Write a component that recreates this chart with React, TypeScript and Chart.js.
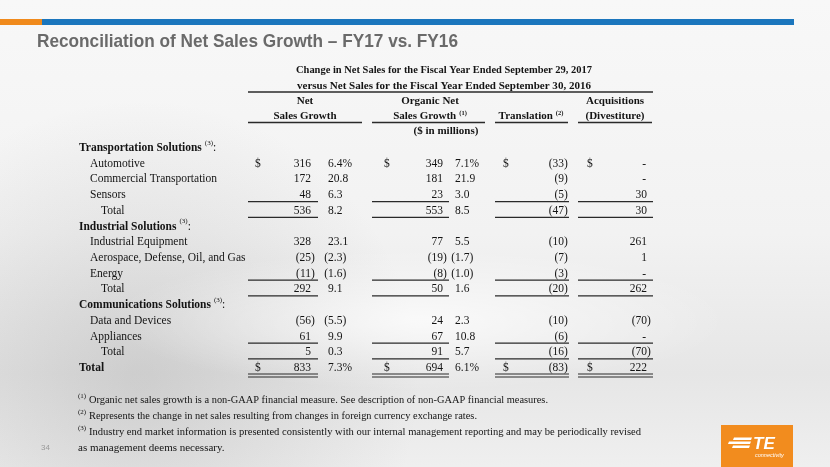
import React, { useEffect, useRef } from 'react';
import { Chart, registerables } from 'chart.js';
Chart.register(...registerables);

const W = 830;
const H = 467;

// ---------- data ----------
const ROWS = [
  'Transportation Solutions', 'Automotive', 'Commercial Transportation', 'Sensors', 'Total',
  'Industrial Solutions', 'Industrial Equipment', 'Aerospace, Defense, Oil, and Gas', 'Energy', 'Total',
  'Communications Solutions', 'Data and Devices', 'Appliances', 'Total', 'Total',
];
const ROW_KIND = [
  'section', 'item', 'item', 'item', 'subtotal',
  'section', 'item', 'item', 'item', 'subtotal',
  'section', 'item', 'item', 'subtotal', 'grand',
];
const NET_AMT = [null, 316, 172, 48, 536, null, 328, -25, -11, 292, null, -56, 61, 5, 833];
const NET_PCT = [null, 6.4, 20.8, 6.3, 8.2, null, 23.1, -2.3, -1.6, 9.1, null, -5.5, 9.9, 0.3, 7.3];
const ORG_AMT = [null, 349, 181, 23, 553, null, 77, -19, -8, 50, null, 24, 67, 91, 694];
const ORG_PCT = [null, 7.1, 21.9, 3.0, 8.5, null, 5.5, -1.7, -1.0, 1.6, null, 2.3, 10.8, 5.7, 6.1];
const TRANS_AMT = [null, -33, -9, -5, -47, null, -10, -7, -3, -20, null, -10, -6, -16, -83];
const ACQ_AMT = [null, 0, 0, 30, 30, null, 261, 1, 0, 262, null, -70, 0, -70, 222];
const DOLLAR_ROWS = [1, 14];
const PERCENT_ROWS = [1, 14];
const SINGLE_RULE_ROWS = [3, 4, 8, 9, 12, 13];
const DOUBLE_RULE_ROWS = [14];

const SLIDE_TITLE = 'Reconciliation of Net Sales Growth \u2013 FY17 vs. FY16';
const TABLE_TITLE = [
  'Change in Net Sales for the Fiscal Year Ended September 29, 2017',
  'versus Net Sales for the Fiscal Year Ended September 30, 2016',
];
const COL_HEAD_TOP = ['Net', 'Organic Net', '', 'Acquisitions'];
const COL_HEAD_BOTTOM = ['Sales Growth', 'Sales Growth', 'Translation', '(Divestiture)'];
const COL_HEAD_SUP = ['', '(1)', '(2)', ''];
const UNITS_LABEL = '($ in millions)';
const FOOTNOTES = [
  ['(1)', 'Organic net sales growth is a non-GAAP financial measure. See description of non-GAAP financial measures.'],
  ['(2)', 'Represents the change in net sales resulting from changes in foreign currency exchange rates.'],
  ['(3)', 'Industry end market information is presented consistently with our internal management reporting and may be periodically revised'],
  ['', 'as management deems necessary.'],
];
const PAGE_NUMBER = '34';

// ---------- layout ----------
const ROW_TOP = 148;
const ROW_BOTTOM = 368;
const GROUPS = [
  { dollar: 255, amtR: 311, pctL: 328, ruleL: 248, ruleR: 318, headL: 248, headR: 362, center: 305 },
  { dollar: 384, amtR: 443, pctL: 455, ruleL: 372, ruleR: 449, headL: 372, headR: 485, center: 430 },
  { dollar: 503, amtR: 564, pctL: 0, ruleL: 495, ruleR: 569, headL: 495, headR: 568, center: 531 },
  { dollar: 587, amtR: 647, pctL: 0, ruleL: 578, ruleR: 653, headL: 578, headR: 652, center: 615 },
];
const FOOT_Y = [400, 416, 432, 448];
const FOOT_W = [459, 388, 552, 0];
const SERIF = '"Liberation Serif", "Times New Roman", serif';
const TEXT = '#141414';
const RULE = '#2a2a2a';

function fmtNum(v: number) {
  return Math.abs(v).toLocaleString('en-US');
}

function fitText(ctx: CanvasRenderingContext2D, text: string, x: number, y: number, width: number, align: CanvasTextAlign) {
  const w = ctx.measureText(text).width;
  const s = w > 0 && width > 0 ? width / w : 1;
  ctx.save();
  ctx.translate(x, y);
  ctx.scale(s, 1);
  ctx.textAlign = align;
  ctx.fillText(text, 0, 0);
  ctx.restore();
}

function drawAmount(ctx: CanvasRenderingContext2D, v: number, xR: number, y: number) {
  ctx.textBaseline = 'middle';
  if (v === 0) {
    ctx.textAlign = 'right';
    ctx.fillText('-', xR - 1, y);
    return;
  }
  const s = fmtNum(v);
  ctx.textAlign = 'right';
  ctx.fillText(s, xR, y);
  if (v < 0) {
    const w = ctx.measureText(s).width;
    ctx.textAlign = 'left';
    ctx.fillText(')', xR, y);
    ctx.textAlign = 'right';
    ctx.fillText('(', xR - w, y);
  }
}

function drawPct(ctx: CanvasRenderingContext2D, v: number, xL: number, y: number, withPct: boolean) {
  ctx.textBaseline = 'middle';
  const s = Math.abs(v).toFixed(1) + (withPct ? '%' : '');
  ctx.textAlign = 'left';
  ctx.fillText(s, xL, y);
  if (v < 0) {
    const w = ctx.measureText(s).width;
    ctx.fillText(')', xL + w, y);
    ctx.textAlign = 'right';
    ctx.fillText('(', xL, y);
  }
}

function hline(ctx: CanvasRenderingContext2D, x1: number, x2: number, y: number, w = 1.2) {
  ctx.beginPath();
  ctx.lineWidth = w;
  ctx.strokeStyle = RULE;
  ctx.moveTo(x1, y);
  ctx.lineTo(x2, y);
  ctx.stroke();
}

const slidePlugin = {
  id: 'slide',
  beforeDraw(chart: any) {
    const ctx: CanvasRenderingContext2D = chart.ctx;
    ctx.save();
    // background
    const g = ctx.createLinearGradient(0, 0, 0, H);
    g.addColorStop(0, '#f8f8f8');
    g.addColorStop(0.5, '#f2f2f2');
    g.addColorStop(0.8, '#e6e6e6');
    g.addColorStop(1, '#efefef');
    ctx.fillStyle = g;
    ctx.fillRect(0, 0, W, H);
    const r1 = ctx.createRadialGradient(140, 380, 10, 140, 380, 280);
    r1.addColorStop(0, 'rgba(120,120,120,0.22)');
    r1.addColorStop(1, 'rgba(120,120,120,0)');
    ctx.fillStyle = r1;
    ctx.fillRect(0, 0, W, H);
    ctx.save();
    ctx.translate(420, 320);
    ctx.scale(2.2, 0.5);
    const r2 = ctx.createRadialGradient(0, 0, 5, 0, 0, 140);
    r2.addColorStop(0, 'rgba(255,255,255,0.7)');
    r2.addColorStop(1, 'rgba(255,255,255,0)');
    ctx.fillStyle = r2;
    ctx.fillRect(-200, -200, 400, 400);
    ctx.restore();

    // top bar
    ctx.fillStyle = '#f08a1c';
    ctx.fillRect(0, 19, 42, 6);
    ctx.fillStyle = '#1b76bd';
    ctx.fillRect(42, 19, 752, 6);

    // slide title
    ctx.fillStyle = '#6a6a6a';
    ctx.font = 'bold 19px "Liberation Sans Narrow", "Liberation Sans", Arial, sans-serif';
    ctx.textBaseline = 'alphabetic';
    fitText(ctx, SLIDE_TITLE, 37, 47, 421, 'left');

    // page number
    ctx.fillStyle = '#9a9a9a';
    ctx.font = '8px "Liberation Sans", Arial, sans-serif';
    ctx.textAlign = 'left';
    ctx.fillText(PAGE_NUMBER, 41, 450);

    // logo
    ctx.fillStyle = '#f28c1e';
    ctx.fillRect(721, 425, 72, 45);
    ctx.fillStyle = '#ffffff';
    const stripe = (x1: number, x2: number, y: number) => {
      ctx.beginPath();
      ctx.moveTo(x1 + 1, y);
      ctx.lineTo(x2 + 1, y);
      ctx.lineTo(x2, y + 2.4);
      ctx.lineTo(x1, y + 2.4);
      ctx.closePath();
      ctx.fill();
    };
    stripe(733, 751, 437.5);
    stripe(728, 750, 441.5);
    stripe(732, 749, 445.5);
    ctx.font = 'italic bold 17px "Liberation Sans", Arial, sans-serif';
    ctx.textBaseline = 'alphabetic';
    ctx.textAlign = 'left';
    ctx.fillText('TE', 753, 449);
    ctx.font = 'italic 5.5px "Liberation Sans", Arial, sans-serif';
    ctx.fillText('connectivity', 755, 457);
    ctx.restore();
  },
  afterDraw(chart: any) {
    const ctx: CanvasRenderingContext2D = chart.ctx;
    const xs = chart.scales.x;
    const ys = chart.scales.y;
    const X = (v: number) => xs.getPixelForValue(v);
    ctx.save();
    ctx.fillStyle = TEXT;

    // table title
    ctx.font = `bold 11px ${SERIF}`;
    ctx.textBaseline = 'middle';
    fitText(ctx, TABLE_TITLE[0], X(444), 70, 296, 'center');
    fitText(ctx, TABLE_TITLE[1], X(444), 86, 294, 'center');
    hline(ctx, X(248), X(653), 92, 1.3);

    // column headers
    GROUPS.forEach((gp, i) => {
      ctx.font = `bold 11px ${SERIF}`;
      ctx.textAlign = 'center';
      ctx.textBaseline = 'middle';
      if (COL_HEAD_TOP[i]) ctx.fillText(COL_HEAD_TOP[i], X(gp.center), 101);
      const main = COL_HEAD_BOTTOM[i];
      const sup = COL_HEAD_SUP[i];
      const mw = ctx.measureText(main).width;
      ctx.font = `bold 6.5px ${SERIF}`;
      const sw = sup ? ctx.measureText(sup).width + 3 : 0;
      const left = X(gp.center) - (mw + sw) / 2;
      ctx.font = `bold 11px ${SERIF}`;
      ctx.textAlign = 'left';
      ctx.fillText(main, left, 116);
      if (sup) {
        ctx.font = `bold 6.5px ${SERIF}`;
        ctx.fillText(sup, left + mw + 3, 113);
      }
      hline(ctx, X(gp.headL), X(gp.headR), 122.5, 1.3);
    });
    ctx.font = `bold 11px ${SERIF}`;
    ctx.textAlign = 'center';
    ctx.fillText(UNITS_LABEL, X(446), 131);

    // rows
    ROWS.forEach((label, i) => {
      const y = ys.getPixelForValue(i);
      const kind = ROW_KIND[i];
      ctx.fillStyle = TEXT;
      ctx.textBaseline = 'middle';
      ctx.textAlign = 'left';
      if (kind === 'section') {
        ctx.font = `bold 11.5px ${SERIF}`;
        ctx.fillText(label, X(79), y);
        const w = ctx.measureText(label).width;
        ctx.font = `7px ${SERIF}`;
        ctx.fillText('(3)', X(79) + w + 3, y - 5);
        const sw = ctx.measureText('(3)').width;
        ctx.font = `11.5px ${SERIF}`;
        ctx.fillText(':', X(79) + w + 3 + sw, y);
        return;
      }
      if (kind === 'grand') {
        ctx.font = `bold 11.5px ${SERIF}`;
        ctx.fillText(label, X(79), y);
      } else {
        ctx.font = `11.5px ${SERIF}`;
        ctx.fillText(label, X(kind === 'subtotal' ? 101 : 90), y);
      }
      ctx.font = `11.5px ${SERIF}`;
      const amts = [NET_AMT[i], ORG_AMT[i], TRANS_AMT[i], ACQ_AMT[i]];
      const pcts = [NET_PCT[i], ORG_PCT[i]];
      GROUPS.forEach((gp, gi) => {
        if (DOLLAR_ROWS.includes(i)) {
          ctx.textAlign = 'left';
          ctx.fillText('$', X(gp.dollar), y);
        }
        const a = amts[gi];
        if (a !== null && a !== undefined) drawAmount(ctx, a, X(gp.amtR), y);
        if (gi < 2) {
          const p = pcts[gi];
          if (p !== null && p !== undefined) drawPct(ctx, p, X(gp.pctL), y, PERCENT_ROWS.includes(i));
        }
        if (SINGLE_RULE_ROWS.includes(i)) hline(ctx, X(gp.ruleL), X(gp.ruleR), y + 6.5, 1.2);
        if (DOUBLE_RULE_ROWS.includes(i)) {
          hline(ctx, X(gp.ruleL), X(gp.ruleR), y + 6, 1.2);
          hline(ctx, X(gp.ruleL), X(gp.ruleR), y + 9, 1.2);
        }
      });
    });

    // footnotes
    FOOTNOTES.forEach(([sup, txt], i) => {
      ctx.fillStyle = TEXT;
      ctx.textAlign = 'left';
      ctx.textBaseline = 'middle';
      let x = X(78);
      if (sup) {
        ctx.font = `7px ${SERIF}`;
        ctx.fillText(sup, x, FOOT_Y[i] - 4);
        x = X(89);
      }
      ctx.font = `11px ${SERIF}`;
      fitText(ctx, txt, x, FOOT_Y[i], FOOT_W[i], 'left');
    });
    ctx.restore();
  },
};

export default function App() {
  const ref = useRef<HTMLCanvasElement>(null);
  useEffect(() => {
    document.body.style.margin = '0';
    const canvas = ref.current!;
    const chart = new Chart(canvas, {
      type: 'scatter',
      data: { labels: ROWS, datasets: [{ data: [], pointRadius: 0 }] },
      options: {
        animation: false,
        responsive: false,
        devicePixelRatio: 1,
        events: [],
        layout: { padding: { top: ROW_TOP, bottom: H - ROW_BOTTOM, left: 0, right: 0 } },
        plugins: { legend: { display: false }, tooltip: { enabled: false }, title: { display: false } },
        scales: {
          x: { type: 'linear', min: 0, max: W, display: false },
          y: { type: 'category', labels: ROWS, display: false, offset: false },
        },
      },
      plugins: [slidePlugin],
    } as any);
    return () => chart.destroy();
  }, []);
  return (
    <div style={{ position: 'absolute', left: 0, top: 0, width: W, height: H }}>
      <canvas ref={ref} width={W} height={H} style={{ display: 'block', width: W, height: H }} />
    </div>
  );
}
